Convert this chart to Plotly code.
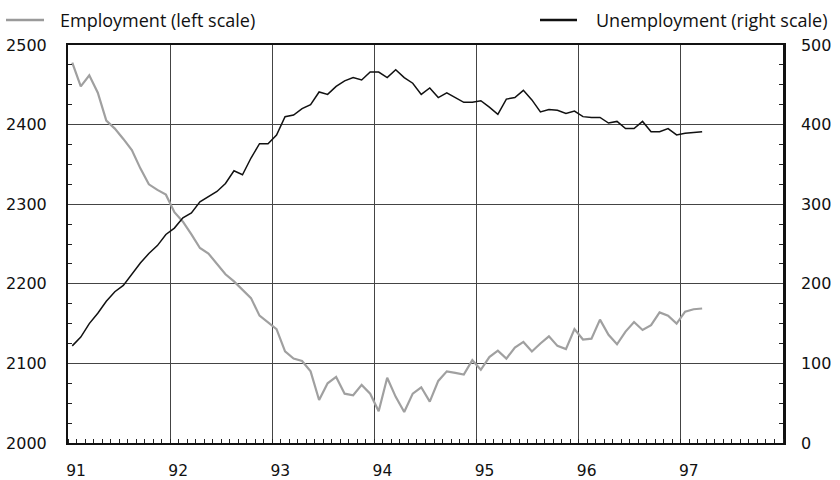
import plotly.graph_objects as go

# Monthly data, Jan 1991 .. Mar 1997
months = [f"{1991 + i // 12}-{i % 12 + 1:02d}" for i in range(75)]
employment = [
    2478, 2448, 2462, 2440, 2405, 2395, 2382, 2368, 2345, 2325, 2318, 2312,
    2290, 2278, 2262, 2245, 2238, 2225, 2212, 2203, 2192, 2182, 2160, 2152,
    2143, 2115, 2106, 2103, 2090, 2054, 2075, 2083, 2062, 2060, 2073, 2062,
    2040, 2082, 2058, 2039, 2062, 2070, 2052, 2078, 2090, 2088, 2086, 2104,
    2092, 2108, 2116, 2106, 2120, 2127, 2115, 2125, 2134, 2122, 2118, 2143,
    2130, 2131, 2155, 2136, 2124, 2140, 2152, 2142, 2148, 2164, 2160, 2150,
    2165, 2168, 2169,
]
unemployment = [
    122, 133, 150, 163, 178, 190, 198, 212, 226, 238, 248, 262,
    270, 283, 289, 303, 310, 316, 326, 342, 337, 358, 376, 376,
    387, 410, 412, 420, 425, 441, 438, 448, 455, 459, 456, 466,
    466, 459, 469, 459, 452, 438, 446, 434, 440, 434, 428, 428,
    430, 422, 413, 432, 434, 443, 431, 416, 419, 418, 414, 417,
    410, 409, 409, 402, 404, 395, 395, 404, 391, 391, 395, 387,
    389, 390, 391,
]
year_ticks = [1991, 1992, 1993, 1994, 1995, 1996, 1997]
year_labels = ["91", "92", "93", "94", "95", "96", "97"]

# mid-month positions on a decimal-year axis
x = [int(m[:4]) + (int(m[5:]) - 0.5) / 12 for m in months]

fig = go.Figure()
fig.add_trace(go.Scatter(x=x, y=employment, mode="lines", name="Employment (left scale)",
                         line=dict(color="#a0a0a0", width=2.2), yaxis="y"))
fig.add_trace(go.Scatter(x=x, y=unemployment, mode="lines", name="Unemployment (right scale)",
                         line=dict(color="#111111", width=1.5), yaxis="y2"))

yfont = dict(family="DejaVu Sans", size=16, color="#111")
xfont = dict(family="DejaVu Sans", size=15.5, color="#111")
fig.update_layout(
    width=840, height=480,
    margin=dict(l=68, r=57, t=45, b=37, autoexpand=False),
    paper_bgcolor="white", plot_bgcolor="white",
    showlegend=False,
    xaxis=dict(range=[1991, 1998], tickvals=year_ticks, ticktext=year_labels,
               showgrid=True, gridcolor="#444", gridwidth=1, automargin=False,
               showline=True, linecolor="#111", linewidth=2, mirror=True,
               ticks="", tickfont=xfont, ticklabelstandoff=12, ticklabelshift=8,
               minor=dict(dtick=1/12, tick0=1991, ticks="inside", ticklen=4,
                          tickcolor="#222", showgrid=False),
               zeroline=False),
    yaxis=dict(range=[2000, 2500], dtick=100, showgrid=True, gridcolor="#444", gridwidth=1,
               showline=True, linecolor="#111", linewidth=2, automargin=False,
               ticks="", tickfont=yfont, ticklabelstandoff=16,
               minor=dict(dtick=25, ticks="inside", ticklen=4, tickcolor="#222", showgrid=False),
               zeroline=False),
    yaxis2=dict(range=[0, 500], dtick=100, overlaying="y", side="right", showgrid=False,
                showline=True, linecolor="#111", linewidth=2.5, automargin=False,
                ticks="", tickfont=yfont, ticklabelstandoff=12,
                minor=dict(dtick=25, ticks="inside", ticklen=4, tickcolor="#222"),
                zeroline=False),
)

# legend drawn as text + line samples above the plot
legfont = dict(family="Open Sans", size=18, color="#111")
ly = (443 - 20) / 398
fig.add_shape(type="line", xref="paper", yref="paper",
              x0=(6 - 68) / 715, x1=(44 - 68) / 715, y0=ly, y1=ly,
              line=dict(color="#9a9a9a", width=2.5))
fig.add_annotation(xref="paper", yref="paper", x=(58 - 68) / 715, y=ly,
                   text="Employment (left scale)", showarrow=False, xanchor="left",
                   yanchor="middle", font=legfont)
fig.add_shape(type="line", xref="paper", yref="paper",
              x0=(540 - 68) / 715, x1=(577 - 68) / 715, y0=ly, y1=ly,
              line=dict(color="#111", width=2.5))
fig.add_annotation(xref="paper", yref="paper", x=(830 - 68) / 715, y=ly,
                   text="Unemployment (right scale)", showarrow=False, xanchor="right",
                   yanchor="middle", font=legfont)

fig.write_html("out.html", config={"displayModeBar": False},
               post_script="document.body.style.margin='0px';document.body.style.overflow='hidden';")
